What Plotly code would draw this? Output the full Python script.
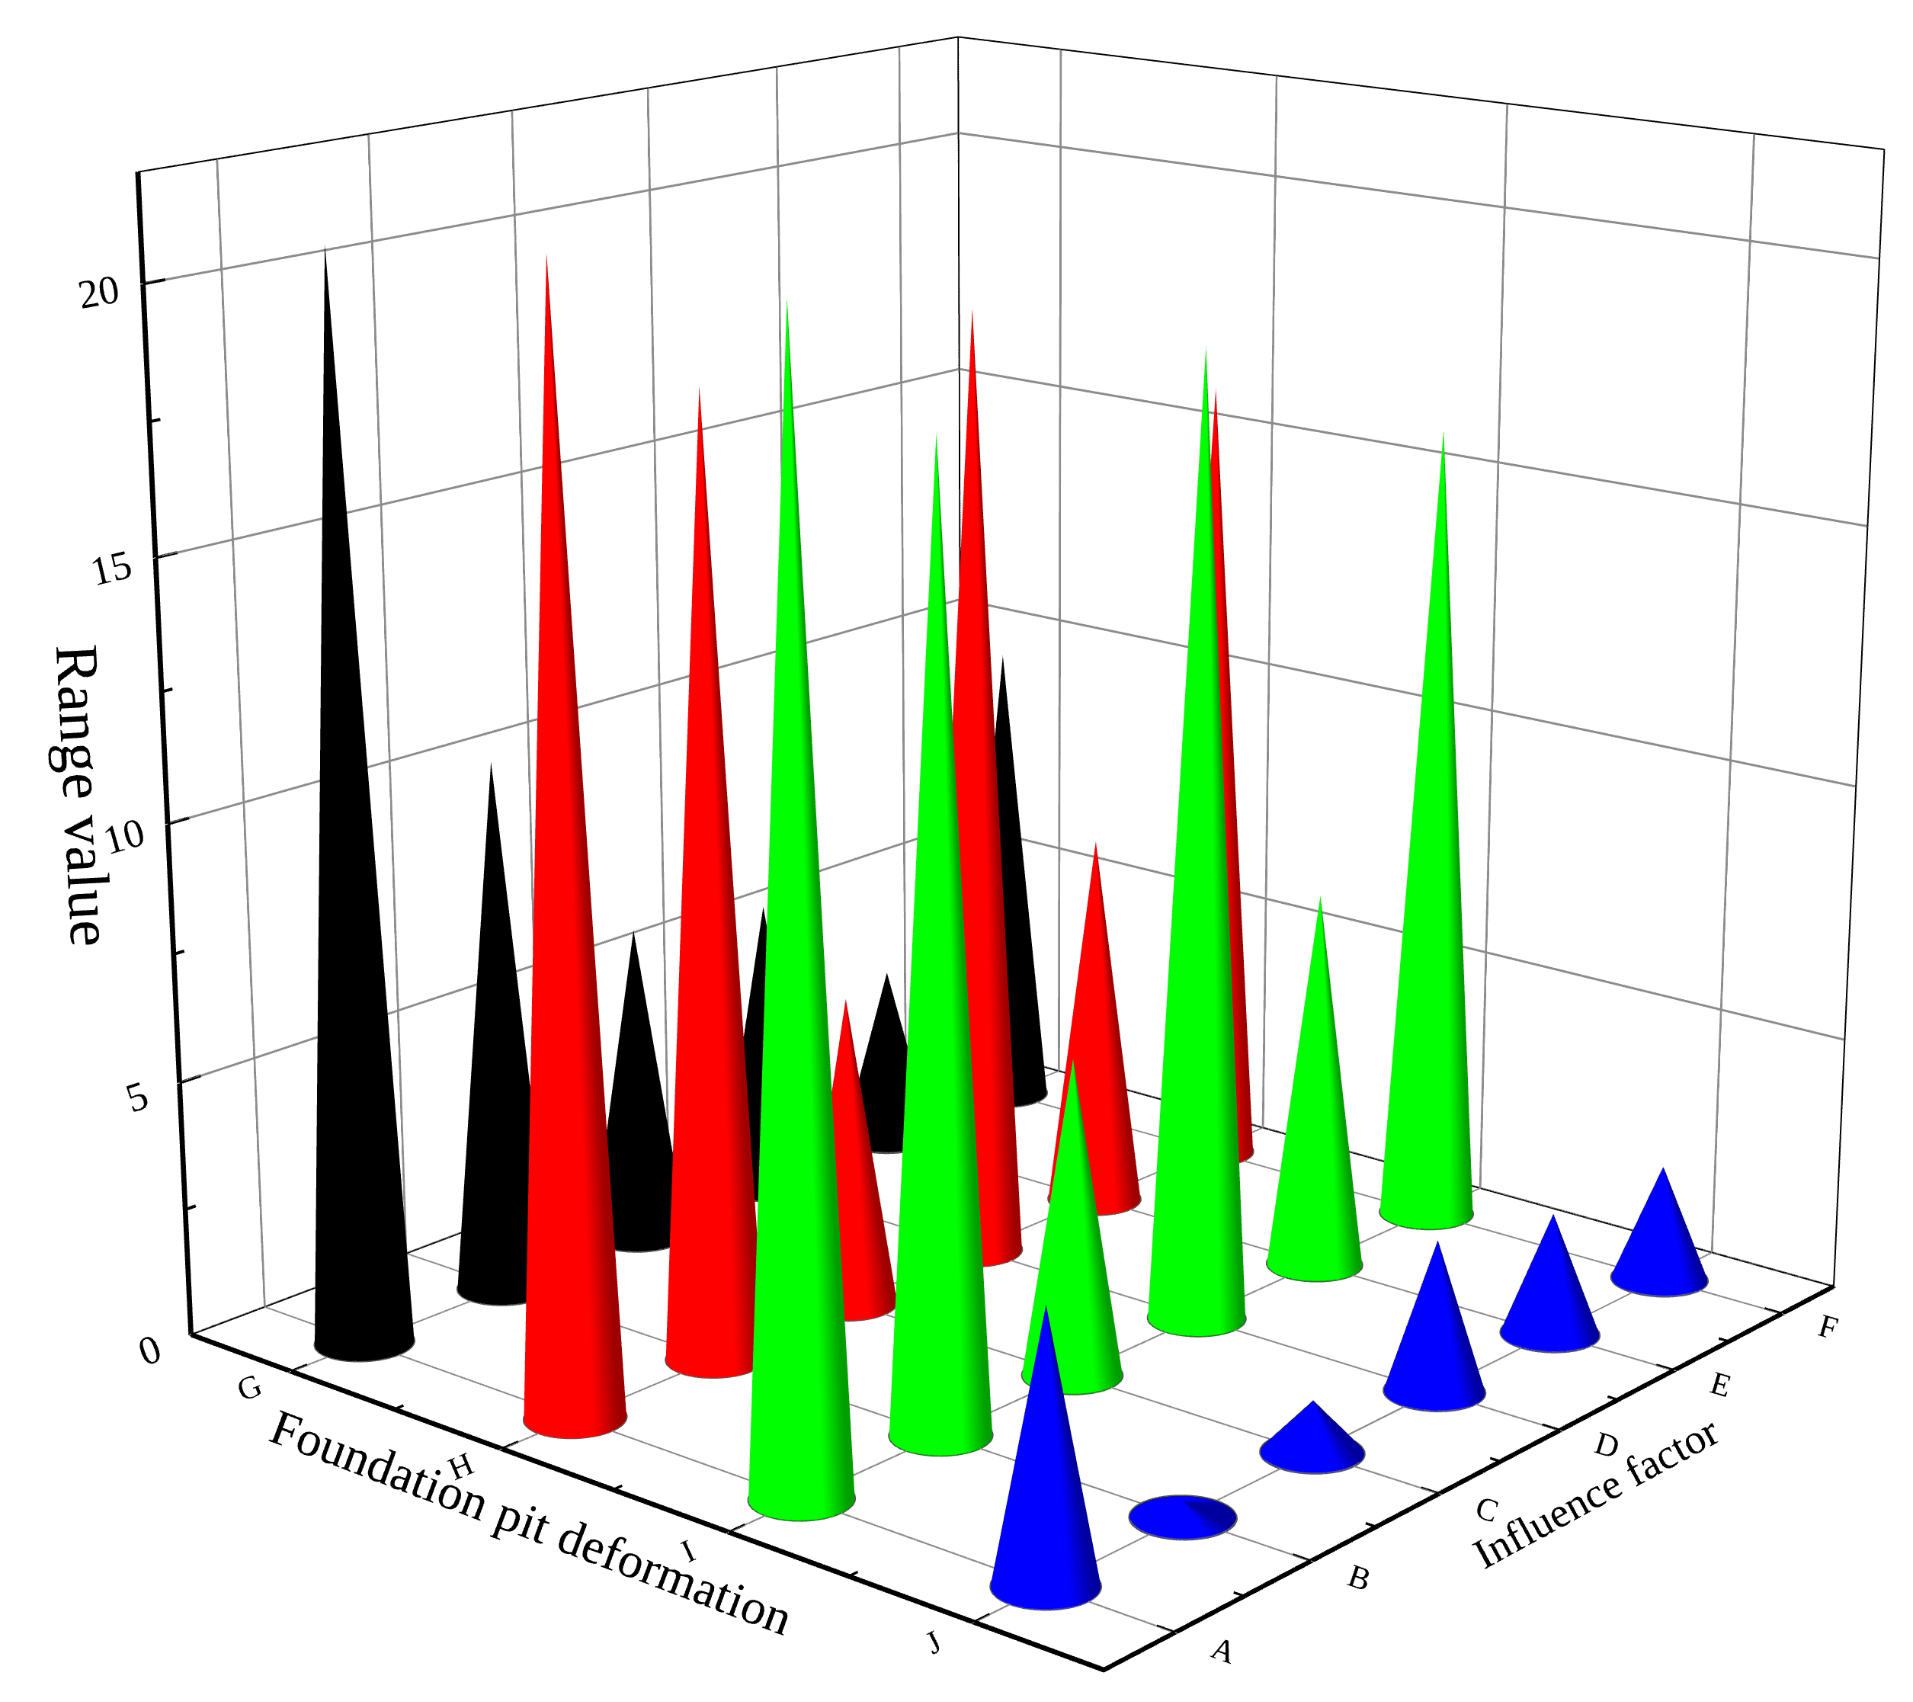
import numpy as np
import plotly.graph_objects as go

factors = ["A", "B", "C", "D", "E", "F"]
deformations = ["J", "I", "H", "G"]
values_J = [5.05, 0.3, 1.0, 2.95, 2.4, 2.3]
values_I = [21.2, 18.35, 6.15, 18.7, 7.5, 15.95]
values_H = [21.3, 18.4, 6.1, 18.7, 7.5, 16.0]
values_G = [20.8, 10.5, 6.3, 5.9, 3.6, 9.6]
series = [values_J, values_I, values_H, values_G]
series_rgb = [(0, 0, 255), (0, 255, 0), (255, 0, 0), (0, 0, 0)]
XR, YR, ZR = 6.0, 4.0, 22.0

az, el, D, F, lx, ly, cx, cy = np.radians(220.323), np.radians(15.766), 4.44, 5299, 1.003, 1.009, 1022.0, 752.5
d = np.array([np.cos(el)*np.cos(az), np.cos(el)*np.sin(az), np.sin(el)])
r_cam = np.cross(-d, [0, 0, 1]); r_cam /= np.linalg.norm(r_cam)
H = int(round(2*F*np.tan(np.pi/8)))
W = H
left, top = cx - W/2, cy - H/2
eye = d*D

fig = go.Figure()
R = 0.042
n = 60
outline = {"x": [], "y": [], "z": []}
for j, (vals, rgb) in enumerate(zip(series, series_rgb)):
    for i, v in enumerate(vals):
        xc, yc = i+.5, j+.5
        th = np.linspace(0, 2*np.pi, n, endpoint=False)
        cx_ = np.cos(th); sy_ = np.sin(th)
        xb = xc + R*XR/lx*cx_
        yb = yc + R*YR/ly*sy_
        t = (cx_*r_cam[0] + sy_*r_cam[1])/np.hypot(r_cam[0], r_cam[1])
        shade = 1 - .38*np.clip((t-.45)/.45, 0, 1)
        cols = ["rgb(%d,%d,%d)" % tuple(int(c*s) for c in rgb) for s in shade]
        X = np.r_[xb, np.full(n, xc)]
        Y = np.r_[yb, np.full(n, yc)]
        Z = np.r_[np.zeros(n), np.full(n, v)]
        I = []; J_ = []; K = []
        for a in range(n):
            b = (a+1) % n
            I += [a, b]; J_ += [b, b+n]; K += [a+n, a+n]
        fig.add_trace(go.Mesh3d(x=X, y=Y, z=Z, i=I, j=J_, k=K, vertexcolor=cols+cols,
                                flatshading=False, hoverinfo="skip",
                                lighting=dict(ambient=1, diffuse=0, specular=0, fresnel=0, roughness=1)))
        outline["x"] += list(xb)+[xb[0], None]
        outline["y"] += list(yb)+[yb[0], None]
        outline["z"] += [0.0]*(n+1)+[None]
fig.add_trace(go.Scatter3d(**outline, mode="lines", line=dict(color="#555555", width=3), hoverinfo="skip"))

fx, fy, fz = [], [], []
for a, b in [((0,YR,ZR),(XR,YR,ZR)), ((XR,YR,ZR),(XR,0,ZR)), ((XR,YR,0),(XR,YR,ZR)), ((0,YR,0),(XR,YR,0)), ((XR,0,0),(XR,YR,0)), ((XR,0,0),(XR,0,ZR))]:
    fx += [a[0], b[0], None]; fy += [a[1], b[1], None]; fz += [a[2], b[2], None]
fig.add_trace(go.Scatter3d(x=fx, y=fy, z=fz, mode="lines", line=dict(color="black", width=2), hoverinfo="skip"))

# inward tick marks along the three axes (major on the labelled values, minor between them)
mx, my, mz = [], [], []
for m in range(1, 6):
    mx += [m, m, None]; my += [0, .04, None]; mz += [0, 0, None]
for m in range(6):
    mx += [m+.5, m+.5, None]; my += [0, .07, None]; mz += [0, 0, None]
for m in range(1, 4):
    mx += [0, .06, None]; my += [m, m, None]; mz += [0, 0, None]
for m in range(4):
    mx += [0, .11, None]; my += [m+.5, m+.5, None]; mz += [0, 0, None]
for m in [2.5, 7.5, 12.5, 17.5]:
    mx += [0, .07, None]; my += [YR, YR, None]; mz += [m, m, None]
for m in [5, 10, 15, 20]:
    mx += [0, .14, None]; my += [YR, YR, None]; mz += [m, m, None]
fig.add_trace(go.Scatter3d(x=mx, y=my, z=mz, mode="lines", line=dict(color="black", width=4), hoverinfo="skip"))

SERIF = "Liberation Serif"
axis = dict(showbackground=True, backgroundcolor="white", gridcolor="#8c8c8c", gridwidth=3,
            showline=True, linecolor="black", linewidth=7, zeroline=False, showspikes=False,
            ticks="outside", ticklen=12, tickwidth=1, tickcolor="rgba(0,0,0,0)")
fig.update_layout(
    width=W, height=H, margin=dict(l=0, r=0, t=0, b=0), autosize=False,
    paper_bgcolor="white", showlegend=False,
    scene=dict(
        domain=dict(x=[0, 1], y=[0, 1]),
        aspectmode="manual", aspectratio=dict(x=lx, y=ly, z=1.0),
        camera=dict(eye=dict(x=eye[0], y=eye[1], z=eye[2]), center=dict(x=0, y=0, z=0), up=dict(x=0, y=0, z=1),
                    projection=dict(type="perspective")),
        xaxis=dict(axis, range=[0, XR], tickmode="array", tickvals=[i+.5 for i in range(6)], ticktext=factors,
                   tickfont=dict(family=SERIF, size=16, color="black"),
                   title=dict(text="Influence factor", font=dict(family=SERIF, size=28, color="black"))),
        yaxis=dict(axis, range=[0, YR], tickmode="array", tickvals=[i+.5 for i in range(4)], ticktext=deformations,
                   tickfont=dict(family=SERIF, size=16, color="black"),
                   title=dict(text="Foundation pit deformation", font=dict(family=SERIF, size=33, color="black"))),
        zaxis=dict(axis, range=[0, ZR], tickmode="array", tickvals=[0, 5, 10, 15, 20], ticktext=["0", "5", "10", "15", "20"],
                   tickfont=dict(family=SERIF, size=18, color="black"),
                   title=dict(text="Range value", font=dict(family=SERIF, size=40, color="black"))),
    ),
)
post = """
document.documentElement.style.overflow='hidden';
document.body.style.cssText='margin:0;overflow:hidden;width:1913px;height:1702px;background:white';
var gd=document.getElementById('{plot_id}');
gd.style.position='absolute';gd.style.left='%dpx';gd.style.top='%dpx';
""" % (round(left), round(top))
fig.write_html("out.html", post_script=post)
